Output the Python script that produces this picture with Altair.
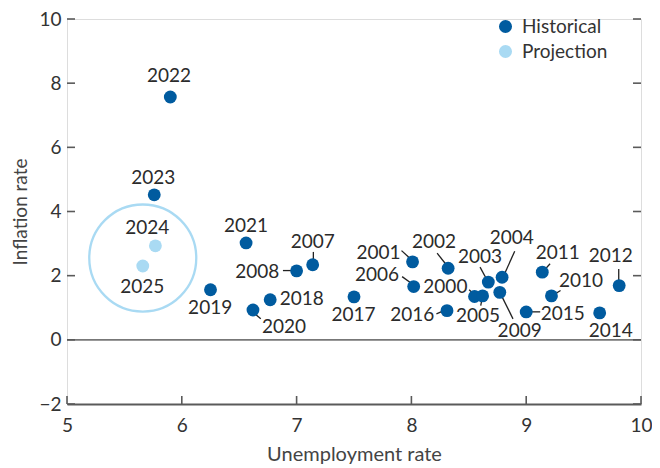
import altair as alt
import pandas as pd

# ---- data ----
years = ["2000", "2001", "2002", "2003", "2004", "2005", "2006", "2007", "2008",
         "2009", "2010", "2011", "2012", "2014", "2015", "2016", "2017", "2018",
         "2019", "2020", "2021", "2022", "2023", "2024", "2025"]
unemployment = [8.55, 8.01, 8.32, 8.67, 8.79, 8.62, 8.02, 7.14, 7.00,
                8.77, 9.22, 9.14, 9.81, 9.64, 9.00, 8.31, 7.50, 6.77,
                6.25, 6.62, 6.56, 5.90, 5.76, 5.77, 5.66]
inflation = [1.35, 2.43, 2.23, 1.80, 1.95, 1.37, 1.66, 2.34, 2.15,
             1.48, 1.37, 2.11, 1.69, 0.84, 0.87, 0.91, 1.34, 1.25,
             1.56, 0.93, 3.02, 7.57, 4.52, 2.93, 2.30]
series = ["Historical"] * 23 + ["Projection"] * 2

# label anchor positions (data units)
label_x = [8.296, 7.714, 8.197, 8.598, 8.874, 8.581, 7.701, 7.140, 6.657,
           8.943, 9.478, 9.275, 9.737, 9.737, 9.318, 8.007, 7.496, 7.045,
           6.247, 6.890, 6.559, 5.889, 5.751, 5.699, 5.656]
label_y = [1.64, 2.71, 3.04, 2.59, 3.17, 0.75, 2.01, 3.05, 2.12,
           0.29, 1.84, 2.71, 2.62, 0.28, 0.81, 0.76, 0.76, 1.28,
           1.00, 0.40, 3.56, 8.22, 5.05, 3.49, 1.65]

# leader lines (data units)
leader_x1 = [6.617, 6.881, 7.146, 7.914, 7.919, 8.224, 8.218, 8.503, 8.604,
             8.598, 8.900, 8.885, 9.001, 9.208, 9.299, 9.806]
leader_y1 = [0.870, 2.159, 2.740, 2.780, 1.970, 2.700, 0.810, 1.558, 1.069,
             2.265, 2.763, 0.654, 0.872, 2.370, 1.536, 2.210]
leader_x2 = [6.688, 6.993, 7.146, 7.994, 8.005, 8.311, 8.273, 8.552, 8.618,
             8.661, 8.805, 8.777, 9.122, 9.150, 9.230, 9.806]
leader_y2 = [0.654, 2.159, 2.400, 2.520, 1.745, 2.310, 0.894, 1.400, 1.330,
             1.850, 2.003, 1.433, 0.872, 2.140, 1.380, 1.745]

x_ticks = [5, 6, 7, 8, 9, 10]
y_ticks = [-2, 0, 2, 4, 6, 8, 10]

highlight_x = [5.66]
highlight_y = [2.55]

# ---- tables ----
pts = pd.DataFrame({"year": years, "u": unemployment, "inf": inflation,
                    "series": series, "lx": label_x, "ly": label_y})
leaders = pd.DataFrame({"x1": leader_x1, "y1": leader_y1,
                        "x2": leader_x2, "y2": leader_y2})
xt = pd.DataFrame({"v": x_ticks})
yt = pd.DataFrame({"v": y_ticks})
hl = pd.DataFrame({"x": highlight_x, "y": highlight_y})
zero = pd.DataFrame({"y": [0]})

FONT = "Lato"
DARK = "#005b9f"
LIGHT = "#a9daf3"
TXT = "#2b2b2b"
AX = "#5a5a5a"
W, H = 574, 385

xs = alt.Scale(domain=[5, 10], nice=False, zero=False)
ys = alt.Scale(domain=[-2, 10], nice=False, zero=False)

xaxis = alt.Axis(values=x_ticks, format="d", labelFlush=False, domain=True,
                 domainColor=AX, domainWidth=2,
                 ticks=False, grid=False, labelPadding=12, labelFontSize=19,
                 labelFont=FONT, labelColor="#333333", title="Unemployment rate",
                 titleFont=FONT, titleFontSize=20, titleFontWeight="normal",
                 titleColor="#444444", titlePadding=9)
yaxis = alt.Axis(values=y_ticks, format="d", labelFlush=False, domain=False,
                 ticks=False, grid=False,
                 labelPadding=6, labelFontSize=19, labelFont=FONT,
                 labelColor="#333333", title="Inflation rate", titleFont=FONT,
                 titleFontSize=19, titleFontWeight="normal",
                 titleColor="#444444", titlePadding=8)

zero_line = alt.Chart(zero).mark_rule(color="#777777", strokeWidth=1.6).encode(
    y=alt.Y("y:Q", scale=ys, axis=yaxis))

lead = alt.Chart(leaders).mark_rule(color="#222222", strokeWidth=1.3).encode(
    x=alt.X("x1:Q", scale=xs, axis=xaxis), y=alt.Y("y1:Q", scale=ys),
    x2="x2:Q", y2="y2:Q")

points = alt.Chart(pts).mark_circle(size=165, opacity=1).encode(
    x=alt.X("u:Q", scale=xs),
    y=alt.Y("inf:Q", scale=ys),
    color=alt.Color("series:N",
                    scale=alt.Scale(domain=["Historical", "Projection"],
                                    range=[DARK, LIGHT]),
                    legend=alt.Legend(title=None, orient="none", legendX=429,
                                      legendY=-2, symbolType="circle",
                                      symbolSize=170, symbolStrokeWidth=0,
                                      labelFont=FONT, labelFontSize=19,
                                      labelColor="#333333", labelOffset=7,
                                      rowPadding=5, padding=0)))

labels = alt.Chart(pts).mark_text(font=FONT, fontSize=19, color=TXT,
                                  align="center", baseline="middle").encode(
    x=alt.X("lx:Q", scale=xs), y=alt.Y("ly:Q", scale=ys), text="year:N")

ring = alt.Chart(hl).mark_point(shape="circle", filled=False, size=11450,
                                color=LIGHT, strokeWidth=2.3, opacity=1).encode(
    x=alt.X("x:Q", scale=xs), y=alt.Y("y:Q", scale=ys))

left_ticks = alt.Chart(yt).mark_rule(color=AX, strokeWidth=1.6).encode(
    y=alt.Y("v:Q", scale=ys), x=alt.value(0), x2=alt.value(8))
right_ticks = alt.Chart(yt).mark_rule(color=AX, strokeWidth=1.6).encode(
    y=alt.Y("v:Q", scale=ys), x=alt.value(W - 8), x2=alt.value(W))
bottom_ticks = alt.Chart(xt).mark_rule(color=AX, strokeWidth=1.6).encode(
    x=alt.X("v:Q", scale=xs), y=alt.value(H - 8), y2=alt.value(H))

chart = alt.layer(zero_line, lead, ring, points, labels,
                  left_ticks, right_ticks, bottom_ticks).properties(
    width=W, height=H,
    padding={"left": 59, "top": 11, "right": 11, "bottom": 64},
    autosize=alt.AutoSizeParams(type="none"),
).configure_view(stroke=None).configure(font=FONT)

chart.save("out.html", embed_options={"renderer": "svg", "actions": False})
